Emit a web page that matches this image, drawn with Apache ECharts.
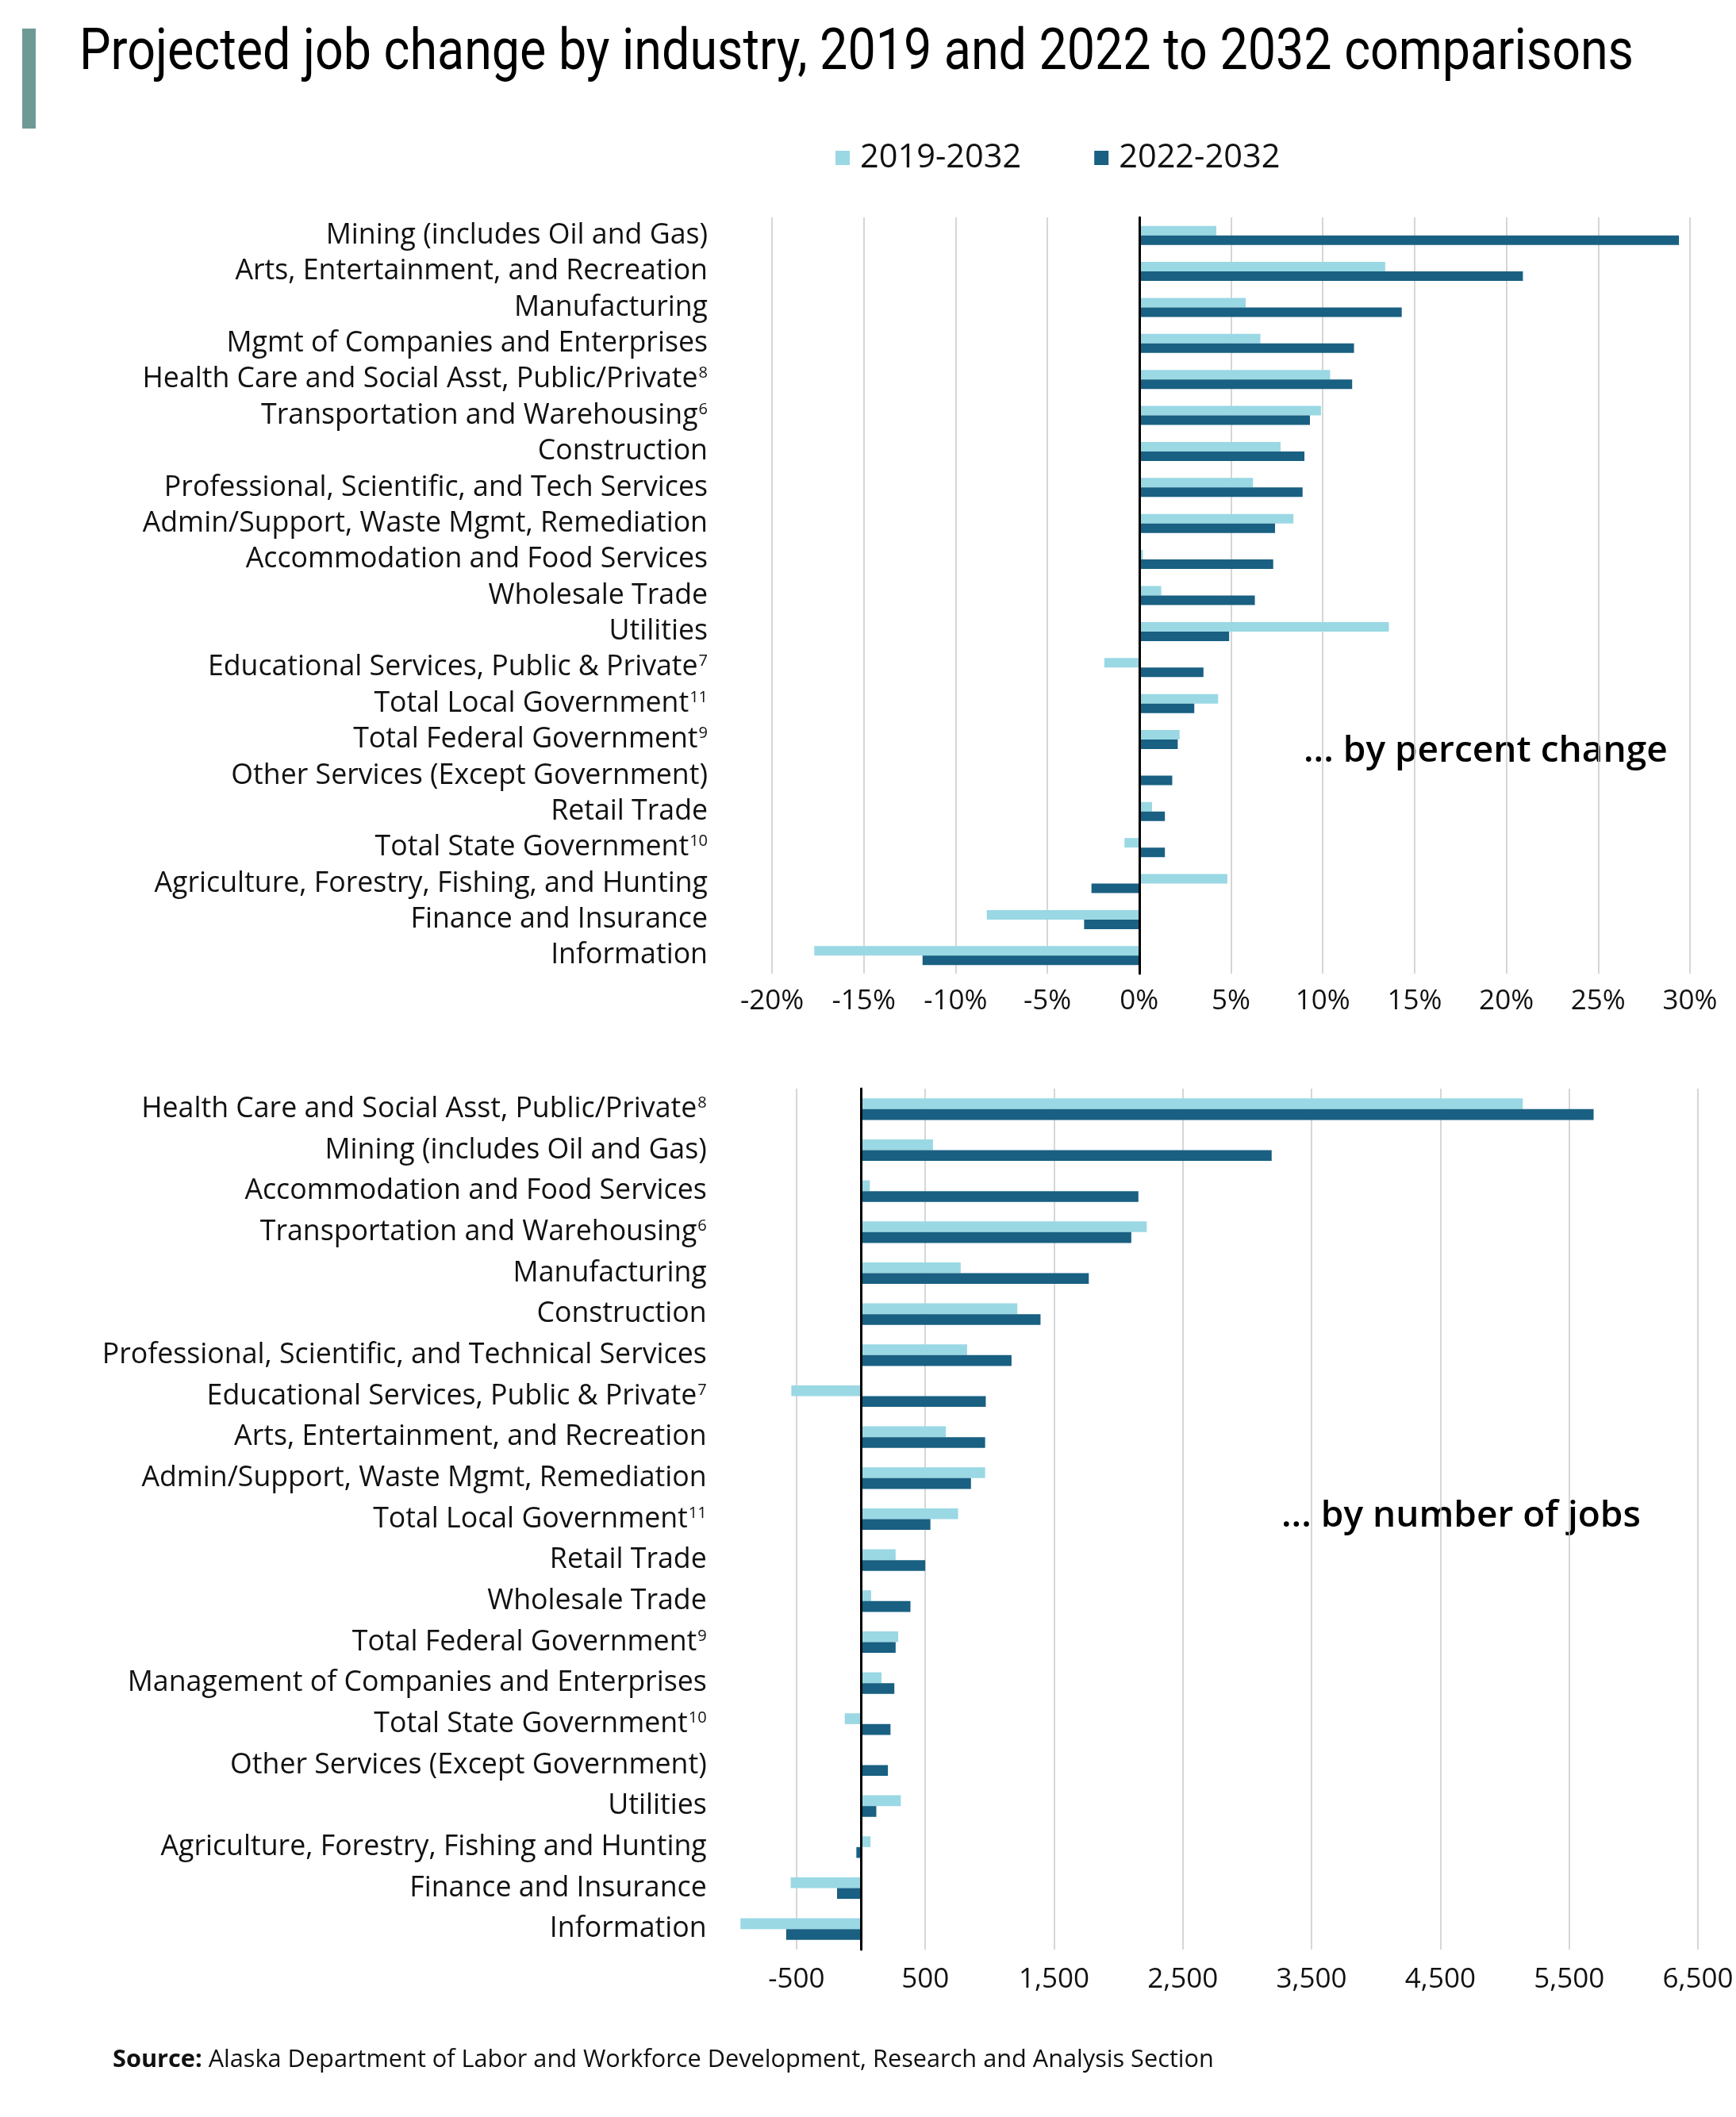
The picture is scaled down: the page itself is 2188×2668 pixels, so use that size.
<!DOCTYPE html>
<html><head><meta charset="utf-8">
<script src="https://cdn.jsdelivr.net/npm/echarts@6/dist/echarts.min.js"></script>
<style>html,body{margin:0;padding:0;background:#fff}#chart{width:2188px;height:2668px}</style>
</head><body><div id="chart"></div>
<script>
const titleText = 'Projected job change by industry, 2019 and 2022 to 2032 comparisons';
const seriesNames = ['2019-2032', '2022-2032'];
const sourceText = 'Alaska Department of Labor and Workforce Development, Research and Analysis Section';
const pctNote = '... by percent change';
const jobNote = '... by number of jobs';

const pctCategories = [
  'Mining (includes Oil and Gas)',
  'Arts, Entertainment, and Recreation',
  'Manufacturing',
  'Mgmt of Companies and Enterprises',
  'Health Care and Social Asst, Public/Private^8',
  'Transportation and Warehousing^6',
  'Construction',
  'Professional, Scientific, and Tech Services',
  'Admin/Support, Waste Mgmt, Remediation',
  'Accommodation and Food Services',
  'Wholesale Trade',
  'Utilities',
  'Educational Services, Public & Private^7',
  'Total Local Government^11',
  'Total Federal Government^9',
  'Other Services (Except Government)',
  'Retail Trade',
  'Total State Government^10',
  'Agriculture, Forestry, Fishing, and Hunting',
  'Finance and Insurance',
  'Information'
];
const pct2019 = [4.2, 13.4, 5.8, 6.6, 10.4, 9.9, 7.7, 6.2, 8.4, 0.2, 1.2, 13.6, -1.9, 4.3, 2.2, 0.1, 0.7, -0.8, 4.8, -8.3, -17.7];
const pct2022 = [29.4, 20.9, 14.3, 11.7, 11.6, 9.3, 9.0, 8.9, 7.4, 7.3, 6.3, 4.9, 3.5, 3.0, 2.1, 1.8, 1.4, 1.4, -2.6, -3.0, -11.8];
const pctTicks = [-20, -15, -10, -5, 0, 5, 10, 15, 20, 25, 30];

const jobCategories = [
  'Health Care and Social Asst, Public/Private^8',
  'Mining (includes Oil and Gas)',
  'Accommodation and Food Services',
  'Transportation and Warehousing^6',
  'Manufacturing',
  'Construction',
  'Professional, Scientific, and Technical Services',
  'Educational Services, Public & Private^7',
  'Arts, Entertainment, and Recreation',
  'Admin/Support, Waste Mgmt, Remediation',
  'Total Local Government^11',
  'Retail Trade',
  'Wholesale Trade',
  'Total Federal Government^9',
  'Management of Companies and Enterprises',
  'Total State Government^10',
  'Other Services (Except Government)',
  'Utilities',
  'Agriculture, Forestry, Fishing and Hunting',
  'Finance and Insurance',
  'Information'
];
const jobs2019 = [5140, 560, 70, 2220, 775, 1215, 825, -540, 660, 965, 755, 270, 80, 290, 160, -125, 10, 310, 75, -545, -935];
const jobs2022 = [5690, 3190, 2155, 2100, 1770, 1395, 1170, 970, 965, 855, 540, 500, 385, 270, 260, 230, 210, 120, -35, -185, -580];
const jobTicks = [-500, 500, 1500, 2500, 3500, 4500, 5500, 6500];

const LIGHT = '#9ad8e4';
const DARK = '#196082';
const FONT = 'Open Sans';
const TXT = '#111111';

function catLabel(s) {
  const m = s.match(/^(.*)\^(\d+)$/);
  return m ? m[1] + '{sup|' + m[2] + '}' : s;
}
const richSup = { sup: { fontSize: 20, fontFamily: FONT, color: TXT, padding: [0, 0, 15, 1] } };

// title horizontal compression to match condensed face
const cv = document.createElement('canvas').getContext('2d');
cv.font = '72px Roboto';
const titleW = cv.measureText(titleText).width;
const titleScale = 1959 / titleW;

const chart = echarts.init(document.getElementById('chart'), null, { renderer: 'canvas' });

const labelAxis = (gi, data, margin) => ({
  type: 'category', gridIndex: gi, data: data, inverse: true, position: 'left',
  axisLine: { show: false, onZero: false }, axisTick: { show: false },
  axisLabel: { interval: 0, formatter: catLabel, fontSize: 35.7, fontFamily: FONT, color: TXT, margin: margin, rich: richSup },
  splitLine: { show: false }
});
const zeroAxis = (gi, data) => ({
  type: 'category', gridIndex: gi, data: data, inverse: true, position: 'left', z: 10,
  axisLine: { show: true, onZero: true, lineStyle: { color: '#000', width: 3 } },
  axisTick: { show: false }, axisLabel: { show: false }, splitLine: { show: false }
});

chart.setOption({
  animation: false,
  backgroundColor: '#fff',
  legend: {
    data: seriesNames, left: 1053, top: 178, padding: 0, icon: 'rect', itemWidth: 18, itemHeight: 18, itemGap: 92,
    textStyle: { fontFamily: FONT, fontSize: 41.5, color: TXT, padding: [0, 0, 0, 8] }
  },
  grid: [
    { left: 973, top: 274, width: 1157, height: 953, containLabel: false },
    { left: 922.7, top: 1372, width: 1217.3, height: 1085, containLabel: false }
  ],
  xAxis: [
    {
      type: 'value', gridIndex: 0, min: -20, max: 30, interval: 5,
      axisLine: { show: false }, axisTick: { show: false },
      axisLabel: { formatter: '{value}%', fontSize: 35, fontFamily: FONT, color: TXT, margin: 18 },
      splitLine: { show: true, lineStyle: { color: '#c8c8c8', width: 1.5 } }
    },
    {
      type: 'value', gridIndex: 1, min: -1000, max: 6500,
      axisLine: { show: false }, axisTick: { show: false, customValues: jobTicks },
      axisLabel: { customValues: jobTicks, formatter: v => v.toLocaleString('en-US'), fontSize: 35, fontFamily: FONT, color: TXT, margin: 21 },
      splitLine: { show: true, lineStyle: { color: '#c8c8c8', width: 1.5 } }
    }
  ],
  yAxis: [
    labelAxis(0, pctCategories, 81),
    zeroAxis(0, pctCategories),
    labelAxis(1, jobCategories, 32),
    zeroAxis(1, jobCategories)
  ],
  series: [
    { name: seriesNames[0], type: 'bar', xAxisIndex: 0, yAxisIndex: 0, data: pct2019, barWidth: 12, barGap: '0%', itemStyle: { color: LIGHT } },
    { name: seriesNames[1], type: 'bar', xAxisIndex: 0, yAxisIndex: 0, data: pct2022, barWidth: 12, barGap: '0%', itemStyle: { color: DARK } },
    { name: seriesNames[0], type: 'bar', xAxisIndex: 1, yAxisIndex: 2, data: jobs2019, barWidth: 13.6, barGap: '0%', itemStyle: { color: LIGHT } },
    { name: seriesNames[1], type: 'bar', xAxisIndex: 1, yAxisIndex: 2, data: jobs2022, barWidth: 13.6, barGap: '0%', itemStyle: { color: DARK } }
  ],
  graphic: [
    { type: 'rect', left: 28, top: 36, shape: { width: 17, height: 126 }, style: { fill: '#6e9a96' } },
    { type: 'text', x: 100, y: 69, scaleX: titleScale, style: { text: titleText, font: '72px Roboto', fill: '#000', verticalAlign: 'middle', align: 'left' } },
    { type: 'text', x: 1643, y: 947, style: { text: pctNote, font: '600 46px "Open Sans"', fill: '#000', verticalAlign: 'middle', align: 'left' } },
    { type: 'text', x: 1615, y: 1911, style: { text: jobNote, font: '600 46px "Open Sans"', fill: '#000', verticalAlign: 'middle', align: 'left' } },
    { type: 'text', x: 142, y: 2596, style: {
        text: '{b|Source:} ' + sourceText, fontFamily: FONT, fontSize: 30.7, fill: TXT, verticalAlign: 'middle', align: 'left',
        rich: { b: { fontFamily: FONT, fontSize: 30.7, fontWeight: 'bold', fill: TXT } }
      } }
  ]
});
</script>
</body></html>
